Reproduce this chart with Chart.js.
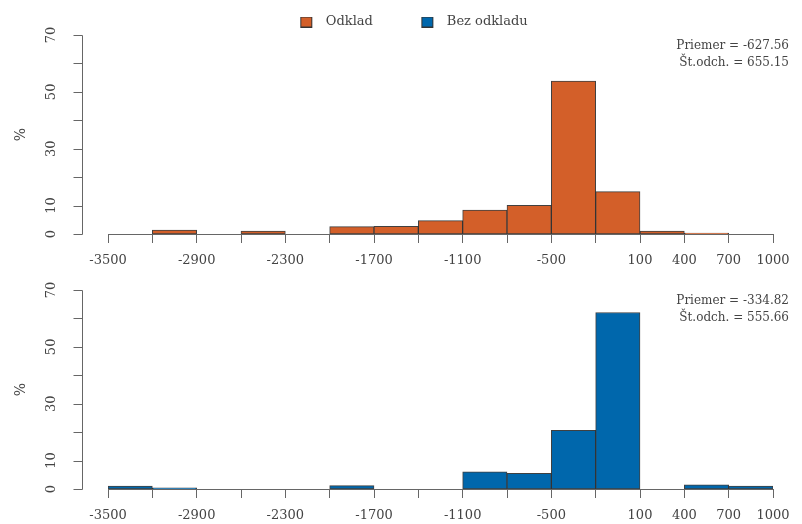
<!DOCTYPE html>
<html>
<head>
<meta charset="utf-8">
<script src="https://cdn.jsdelivr.net/npm/chart.js@4/dist/chart.umd.min.js"></script>
<style>
  html, body { margin: 0; padding: 0; background: #ffffff; overflow: hidden; }
  #wrap { position: relative; width: 802px; height: 524px; }
  #c1 { position: absolute; left: 0; top: 0; }
  #c2 { position: absolute; left: 0; top: 267px; }
</style>
</head>
<body>
<div id="wrap">
  <canvas id="c1" width="802" height="274"></canvas>
  <canvas id="c2" width="802" height="262"></canvas>
</div>
<script>
// ---- data ----
const binLower = [-3500, -3200, -2900, -2600, -2300, -2000, -1700, -1400, -1100, -800, -500, -200, 100, 400, 700];
const binUpper = [-3200, -2900, -2600, -2300, -2000, -1700, -1400, -1100, -800, -500, -200, 100, 400, 700, 1000];
const odkladPct    = [0, 1.4, 0, 1.0, 0, 2.6, 2.7, 4.7, 8.4, 10.1, 53.8, 14.9, 1.0, 0.3, 0];
const bezOdkladPct = [1.05, 0.4, 0, 0, 0, 1.2, 0, 0, 6.0, 5.5, 20.6, 62.1, 0, 1.5, 1.0];
const seriesNames  = ["Odklad", "Bez odkladu"];
const seriesColors = ["#D35F29", "#0067AC"];
const xTickValues  = [-3500, -3200, -2900, -2600, -2300, -2000, -1700, -1400, -1100, -800, -500, -200, 100, 400, 700, 1000];
const xTickLabels  = [-3500, -2900, -2300, -1700, -1100, -500, 100, 400, 700, 1000];
const yTickLabels  = [0, 10, 30, 50, 70];
const yAxisTitle   = "%";
const statsOdklad  = ["Priemer = -627.56", "Št.odch. = 655.15"];
const statsBez     = ["Priemer = -334.82", "Št.odch. = 555.66"];

const FONT = '"DejaVu Serif", "Liberation Serif", serif';
const TEXT = '#444444';
const AXIS = '#666666';
Chart.defaults.font.family = FONT;
Chart.defaults.font.size = 13;
Chart.defaults.color = TEXT;

function points(vals) {
  return vals.map((v, i) => ({ x: (binLower[i] + binUpper[i]) / 2, y: v }));
}

// legend swatch images (square sits in the right part of a wider transparent swatch)
function swatch(color) {
  const c = document.createElement('canvas');
  c.width = 40; c.height = 11;
  const g = c.getContext('2d');
  g.fillStyle = color;
  g.fillRect(27.5, 0.5, 11, 10);
  g.strokeStyle = '#333333';
  g.lineWidth = 1;
  g.strokeRect(27.5, 0.5, 11, 10);
  return c;
}

// R-style left axis (offset from plot), rotated tick labels, axis title, stats text
const rStylePlugin = {
  id: 'rStyle',
  afterDraw(chart, args, opts) {
    const ctx = chart.ctx;
    const y = chart.scales.y;
    const ca = chart.chartArea;
    const x0 = Math.round(ca.left - 26) + 0.5;
    ctx.save();
    ctx.strokeStyle = AXIS;
    ctx.lineWidth = 1;
    ctx.beginPath();
    ctx.moveTo(x0, Math.round(y.getPixelForValue(y.min)) + 0.5);
    ctx.lineTo(x0, Math.round(y.getPixelForValue(y.max)) + 0.5);
    y.ticks.forEach(t => {
      const py = Math.round(y.getPixelForValue(t.value)) + 0.5;
      ctx.moveTo(x0 - 9, py);
      ctx.lineTo(x0, py);
    });
    ctx.stroke();
    ctx.fillStyle = TEXT;
    ctx.font = '13px ' + FONT;
    ctx.textAlign = 'center';
    ctx.textBaseline = 'middle';
    y.ticks.forEach(t => {
      if (!yTickLabels.includes(t.value)) return;
      const py = y.getPixelForValue(t.value);
      ctx.save();
      ctx.translate(x0 - 31, py);
      ctx.rotate(-Math.PI / 2);
      ctx.fillText(String(t.value), 0, 0);
      ctx.restore();
    });
    // axis title
    ctx.save();
    ctx.font = '14px ' + FONT;
    ctx.translate(21, (ca.top + ca.bottom) / 2);
    ctx.rotate(-Math.PI / 2);
    ctx.fillText(yAxisTitle, 0, 0);
    ctx.restore();
    // stats text
    ctx.textAlign = 'right';
    ctx.font = '12px ' + FONT;
    (opts.lines || []).forEach((s, i) => {
      ctx.fillText(s, ca.right + 16, ca.top + 11 + i * 17);
    });
    ctx.restore();
  }
};

function makeChart(canvasId, vals, color, stats, withLegend, padTop, padLeft) {
  return new Chart(document.getElementById(canvasId), {
    type: 'bar',
    data: {
      datasets: [{
        label: withLegend ? seriesNames[0] : seriesNames[1],
        data: points(vals),
        backgroundColor: color,
        borderColor: 'rgba(30,30,30,0.85)',
        borderWidth: 1,
        borderSkipped: false,
        barPercentage: 1,
        categoryPercentage: 1
      }]
    },
    options: {
      responsive: false,
      animation: false,
      layout: { padding: { top: padTop, right: 29, left: padLeft, bottom: 0 } },
      scales: {
        x: {
          type: 'linear',
          min: -3500,
          max: 1000,
          offset: false,
          afterBuildTicks: (s) => { s.ticks = xTickValues.map(v => ({ value: v })); },
          afterFit: (s) => { s.height = 40; },
          grid: { display: true, offset: false, drawOnChartArea: false, drawTicks: true, tickLength: 9, color: AXIS },
          border: { display: true, color: AXIS, width: 1 },
          ticks: {
            autoSkip: false,
            maxRotation: 0,
            minRotation: 0,
            padding: 10,
            color: TEXT,
            font: { size: 13, family: FONT },
            callback: (v) => xTickLabels.includes(v) ? String(v) : ''
          }
        },
        y: {
          min: 0,
          max: 70,
          ticks: { display: false, stepSize: 10 },
          grid: { display: false },
          border: { display: false },
          afterFit: (s) => { s.width = 108 - padLeft; },
          title: { display: false }
        }
      },
      plugins: {
        tooltip: { enabled: false },
        rStyle: { lines: stats },
        legend: {
          display: withLegend,
          position: 'top',
          align: 'center',
          maxHeight: 35,
          onClick: null,
          labels: {
            usePointStyle: true,
            pointStyleWidth: 52,
            boxHeight: 10,
            padding: 15.5,
            color: TEXT,
            font: { size: 13, family: FONT },
            generateLabels: () => seriesNames.map((n, i) => ({
              text: n,
              fillStyle: seriesColors[i],
              strokeStyle: '#333333',
              lineWidth: 1,
              pointStyle: swatch(seriesColors[i]),
              hidden: false,
              fontColor: TEXT,
              datasetIndex: 0
            }))
          }
        }
      }
    },
    plugins: [rStylePlugin]
  });
}

makeChart('c1', odkladPct, seriesColors[0], statsOdklad, true, 0, 22);
makeChart('c2', bezOdkladPct, seriesColors[1], statsBez, false, 23, 0);
</script>
</body>
</html>
